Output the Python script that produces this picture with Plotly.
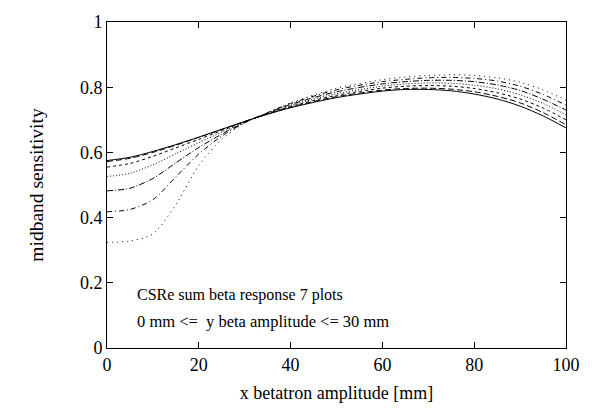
import plotly.graph_objects as go

x_mm = [0, 5, 10, 15, 20, 25, 30, 35, 40, 50, 60, 65, 70, 75, 80, 85, 90, 95, 100]

y_beta_0 = [0.575, 0.585, 0.603, 0.624, 0.647, 0.671, 0.695, 0.717, 0.737, 0.768, 0.788, 0.793, 0.793, 0.789, 0.779, 0.764, 0.742, 0.712, 0.675]
y_beta_5 = [0.572, 0.582, 0.600, 0.622, 0.646, 0.670, 0.695, 0.718, 0.739, 0.771, 0.791, 0.796, 0.797, 0.794, 0.786, 0.772, 0.752, 0.722, 0.685]
y_beta_10 = [0.555, 0.566, 0.588, 0.614, 0.640, 0.667, 0.694, 0.719, 0.741, 0.775, 0.797, 0.803, 0.805, 0.803, 0.796, 0.783, 0.764, 0.736, 0.700]
y_beta_15 = [0.526, 0.536, 0.562, 0.596, 0.630, 0.662, 0.693, 0.720, 0.744, 0.780, 0.803, 0.810, 0.813, 0.812, 0.806, 0.795, 0.777, 0.750, 0.715]
y_beta_20 = [0.482, 0.490, 0.520, 0.568, 0.615, 0.656, 0.692, 0.721, 0.747, 0.786, 0.810, 0.817, 0.821, 0.821, 0.817, 0.807, 0.790, 0.763, 0.730]
y_beta_25 = [0.418, 0.425, 0.455, 0.525, 0.595, 0.650, 0.691, 0.722, 0.750, 0.792, 0.817, 0.824, 0.829, 0.830, 0.827, 0.819, 0.803, 0.778, 0.745]
y_beta_30 = [0.324, 0.328, 0.350, 0.440, 0.560, 0.640, 0.690, 0.722, 0.752, 0.797, 0.823, 0.831, 0.836, 0.838, 0.836, 0.829, 0.815, 0.792, 0.760]

series = [y_beta_0, y_beta_5, y_beta_10, y_beta_15, y_beta_20, y_beta_25, y_beta_30]
names = ["y = 0 mm", "y = 5 mm", "y = 10 mm", "y = 15 mm", "y = 20 mm", "y = 25 mm", "y = 30 mm"]
dashes = ["solid", "6px,3px", "3px,3px", "1px,2px", "6px,2px,1px,2px", "5px,3px,1px,3px", "1px,4px"]

FONT = "Liberation Serif"

fig = go.Figure()
for ys, nm, d in zip(series, names, dashes):
    fig.add_trace(go.Scatter(
        x=x_mm, y=ys, mode="lines", name=nm,
        line=dict(color="black", width=1, dash=d, shape="spline", smoothing=0.8),
        showlegend=False,
    ))

fig.add_annotation(x=6, y=0.162, xref="x", yref="y", text="CSRe sum beta response 7 plots",
                   showarrow=False, xanchor="left", yanchor="middle",
                   font=dict(family=FONT, size=16, color="black"))
fig.add_annotation(x=6, y=0.082, xref="x", yref="y", text="0 mm &lt;=  y beta amplitude &lt;= 30 mm",
                   showarrow=False, xanchor="left", yanchor="middle",
                   font=dict(family=FONT, size=16.5, color="black"))

axis_common = dict(
    showgrid=False, zeroline=False, showline=True, linecolor="black", linewidth=1,
    mirror="allticks", ticks="inside", ticklen=6, tickcolor="black", tickwidth=1,
    tickfont=dict(family=FONT, size=18, color="black"), ticklabeloverflow="allow",
)

fig.update_xaxes(range=[0, 100], dtick=20, tick0=0,
                 title=dict(text="x betatron amplitude [mm]", font=dict(family=FONT, size=18, color="black"), standoff=12),
                 **axis_common)
fig.update_yaxes(range=[0, 1], dtick=0.2, tick0=0,
                 title=dict(text="midband sensitivity", font=dict(family=FONT, size=19.5, color="black"), standoff=31),
                 **axis_common)

fig.update_layout(
    width=592, height=411,
    margin=dict(l=107, r=14, t=12, b=62),
    plot_bgcolor="white", paper_bgcolor="white",
    font=dict(family=FONT, color="black"),
)

# remove the default 8px page margin so the figure fills the window exactly
fig.write_html("out.html", config={"displayModeBar": False},
               post_script="document.body.style.margin='0';")
